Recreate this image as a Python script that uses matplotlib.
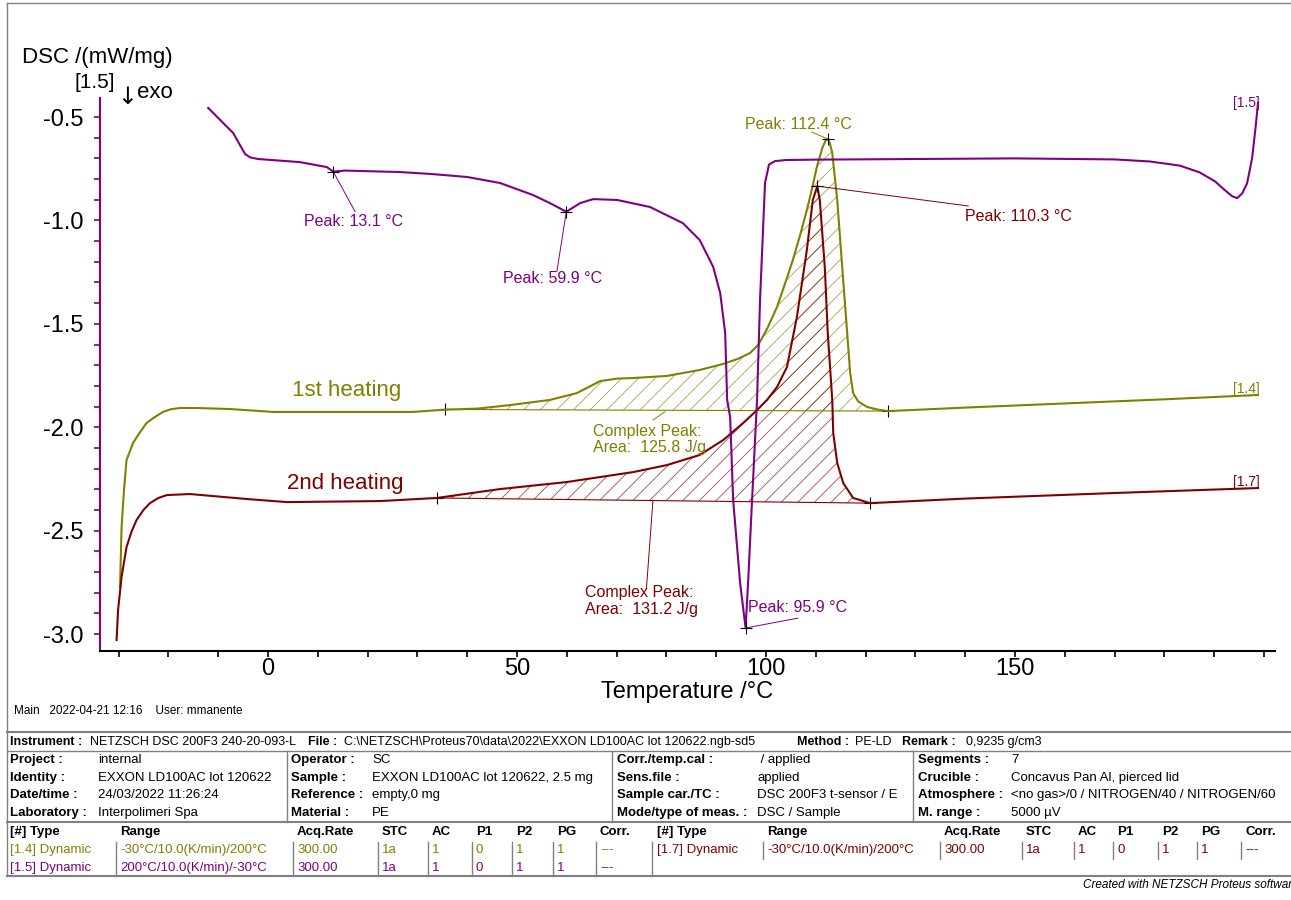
import matplotlib
matplotlib.use("Agg")
import matplotlib.pyplot as plt
from matplotlib.lines import Line2D

plt.rcParams['font.family'] = ['Liberation Sans', 'DejaVu Sans']
plt.rcParams['axes.unicode_minus'] = False
plt.rcParams['hatch.linewidth'] = 0.6

OLIVE = '#808000'
MAROON = '#800000'
PURPLE = '#800080'

# [1.4] first heating, -30 -> 200 °C
heat1_T = [-29.7, -29.4, -28.9, -28.4, -27.1, -26.0, -24.4, -23.0, -21.1, -19.5, -17.7, -14.3, -7.6,
           1.0, 12.4, 29.1, 35.5, 42.0, 48.6, 56.6, 62.0, 66.7, 70.0, 73.3, 80.1, 86.7, 91.4,
           94.5, 96.8, 98.5, 100.3, 102.2, 103.9, 105.4, 106.8, 108.2, 109.3, 110.2, 111.3,
           112.0, 112.4, 112.8, 113.3, 114.3, 115.3, 116.3, 116.9, 117.5, 118.5, 120.3, 122.5,
           124.5, 140.0, 160.0, 180.0, 198.8]
heat1_dsc = [-2.773, -2.483, -2.300, -2.159, -2.076, -2.035, -1.980, -1.955, -1.926, -1.913, -1.907,
             -1.907, -1.912, -1.926, -1.926, -1.926, -1.915, -1.910, -1.893, -1.868, -1.835, -1.777,
             -1.765, -1.762, -1.752, -1.723, -1.694, -1.668, -1.641, -1.600, -1.520, -1.419, -1.300,
             -1.191, -1.075, -0.950, -0.840, -0.742, -0.650, -0.612, -0.606, -0.625, -0.674, -0.901,
             -1.225, -1.545, -1.738, -1.835, -1.875, -1.902, -1.915, -1.922, -1.905, -1.885, -1.865,
             -1.844]

# [1.7] second heating, -30 -> 200 °C
heat2_T = [-30.4, -30.1, -29.4, -28.4, -27.4, -26.4, -25.0, -23.7, -22.0, -20.3, -15.7, -4.3, 3.8,
           22.5, 33.9, 46.6, 60.0, 73.3, 80.1, 86.7, 91.4, 95.4, 98.2, 100.2, 102.2, 104.2, 106.2,
           108.2, 109.4, 110.3, 110.8, 111.8, 112.4, 113.3, 113.5, 114.3, 115.5, 117.5, 120.9,
           140.0, 170.0, 198.8]
heat2_dsc = [-3.029, -2.884, -2.724, -2.579, -2.505, -2.449, -2.400, -2.367, -2.342, -2.328, -2.323,
             -2.347, -2.362, -2.357, -2.342, -2.299, -2.265, -2.217, -2.183, -2.134, -2.062, -1.980,
             -1.917, -1.868, -1.806, -1.709, -1.467, -1.143, -0.901, -0.834, -0.901, -1.225, -1.545,
             -1.868, -2.028, -2.173, -2.270, -2.342, -2.367, -2.345, -2.318, -2.294]

# [1.5] cooling, 200 -> -30 °C (kept in time order)
cool_T = [198.8, 198.3, 197.6, 196.6, 195.6, 194.6, 193.6, 192.2, 190.2, 187.1, 183.1, 177.1,
          170.0, 150.0, 130.0, 110.0, 104.0, 101.8, 100.6, 99.8, 98.8, 98.2, 97.2, 96.4, 95.9,
          94.8, 93.4, 92.8, 92.2, 91.8, 90.8, 89.4, 86.7, 83.3, 76.7, 70.1, 65.3, 62.7, 59.9,
          56.6, 53.2, 46.6, 40.0, 33.1, 26.5, 15.5, 13.1, 11.8, 6.4, -2.0, -3.6, -4.6, -7.0, -12.0]
cool_dsc = [-0.43, -0.55, -0.70, -0.82, -0.87, -0.892, -0.883, -0.855, -0.812, -0.768, -0.735, -0.715,
            -0.705, -0.700, -0.703, -0.706, -0.708, -0.713, -0.730, -0.819, -1.385, -1.868, -2.352,
            -2.753, -2.971, -2.753, -2.352, -1.951, -1.868, -1.544, -1.351, -1.225, -1.095, -1.013,
            -0.935, -0.901, -0.897, -0.916, -0.958, -0.916, -0.877, -0.819, -0.790, -0.776, -0.766,
            -0.759, -0.764, -0.742, -0.718, -0.703, -0.695, -0.679, -0.577, -0.456]

# integration limits (°C) and baseline values for the complex peaks
area1_T = [35.5, 124.5]
area1_base = [-1.914, -1.922]
area2_T = [33.9, 120.9]
area2_base = [-2.342, -2.367]

# evaluated peaks: (temperature, dsc)
peaks_cool = [(13.1, -0.764), (59.9, -0.958), (95.9, -2.971)]
peak_heat1 = (112.4, -0.606)
peak_heat2 = (110.3, -0.834)

W, H = 1291, 900
fig = plt.figure(figsize=(W / 100, H / 100), dpi=100)
ax = fig.add_axes([100 / W, 1 - 651 / H, 1175 / W, 553 / H])
ax.set_xlim(-33.73, 202.2)
ax.set_ylim(-3.082, -0.408)


def hatch_area(T, dsc, lim, base, color):
    pts_T = [t for t in T if lim[0] < t < lim[1]]
    pts_v = [v for t, v in zip(T, dsc) if lim[0] < t < lim[1]]
    poly_T = [lim[0]] + pts_T + [lim[1]]
    poly_v = [base[0]] + pts_v + [base[1]]
    ax.fill(poly_T, poly_v, facecolor='none', edgecolor=color, hatch='//', linewidth=0, alpha=0.7)
    ax.plot(lim, base, color=color, lw=0.8)
    ax.plot(lim, base, '+', color='black', ms=9, mew=0.8)


hatch_area(heat1_T, heat1_dsc, area1_T, area1_base, OLIVE)
hatch_area(heat2_T, heat2_dsc, area2_T, area2_base, MAROON)

ax.plot(heat1_T, heat1_dsc, color=OLIVE, lw=1.5)
ax.plot(heat2_T, heat2_dsc, color=MAROON, lw=1.5)
ax.plot(cool_T, cool_dsc, color=PURPLE, lw=1.5)

lab = dict(fontsize=11.5, va='center')


def peak_note(pk, txt_xy, lead_xy, text, color, ha='left'):
    ax.plot([pk[0], lead_xy[0]], [pk[1], lead_xy[1]], color=color, lw=0.7)
    ax.plot(pk[0], pk[1], '+', color='black', ms=9, mew=0.8)
    ax.text(txt_xy[0], txt_xy[1], text, color=color, ha=ha, **lab)


peak_note(peaks_cool[0], (7.2, -1.003), (17.5, -0.958), f"Peak: {peaks_cool[0][0]} °C", PURPLE)
peak_note(peaks_cool[1], (47.2, -1.283), (58.0, -1.248), f"Peak: {peaks_cool[1][0]} °C", PURPLE)
peak_note(peaks_cool[2], (96.4, -2.874), (106.4, -2.923), f"Peak: {peaks_cool[2][0]} °C", PURPLE)
peak_note(peak_heat1, (95.8, -0.534), (109.2, -0.573), f"Peak: {peak_heat1[0]} °C", OLIVE)
peak_note(peak_heat2, (140.0, -0.979), (140.6, -0.930), f"Peak: {peak_heat2[0]} °C", MAROON)

ax.plot([79.7, 77.3], [-1.925, -1.965], color=OLIVE, lw=0.7)
ax.text(65.3, -2.06, "Complex Peak:\nArea:  125.8 J/g", color=OLIVE, fontsize=11.5,
        va='center', ha='left', linespacing=1.1)
ax.plot([77.3, 76.0], [-2.352, -2.778], color=MAROON, lw=0.7)
ax.text(63.7, -2.84, "Complex Peak:\nArea:  131.2 J/g", color=MAROON, fontsize=11.5,
        va='center', ha='left', linespacing=1.1)

ax.text(4.8, -1.820, "1st heating", color=OLIVE, fontsize=16, va='center')
ax.text(3.8, -2.270, "2nd heating", color=MAROON, fontsize=16, va='center')

ax.text(199.2, -0.432, "[1.5]", color=PURPLE, fontsize=10, ha='right', va='center')
ax.text(199.2, -1.815, "[1.4]", color=OLIVE, fontsize=10, ha='right', va='center')
ax.text(199.2, -2.265, "[1.7]", color=MAROON, fontsize=10, ha='right', va='center')

# axes styling
for s in ('top', 'right'):
    ax.spines[s].set_visible(False)
ax.spines['left'].set_color(PURPLE)
ax.spines['left'].set_linewidth(1.5)
ax.spines['bottom'].set_linewidth(1.5)
ax.set_xticks([0, 50, 100, 150])
ax.set_xticks(range(-30, 201, 10), minor=True)
ax.set_yticks([-3.0, -2.5, -2.0, -1.5, -1.0, -0.5])
ax.set_yticklabels(['-3.0', '-2.5', '-2.0', '-1.5', '-1.0', '-0.5'])
ax.set_yticks([x / 10 for x in range(-30, -4)], minor=True)
ax.tick_params(axis='x', which='both', direction='out', length=4, width=1.2, labelsize=17, pad=1)
ax.tick_params(axis='y', which='both', direction='out', length=4, width=1.2, color=PURPLE,
               labelsize=17, pad=8)

# pixel-positioned figure text helpers
def ftext(x, y, s, **kw):
    kw.setdefault('va', 'center')
    fig.text(x / W, 1 - y / H, s, **kw)


def fline(xs, ys, **kw):
    kw.setdefault('color', '#808080')
    kw.setdefault('lw', 1.0)
    fig.add_artist(Line2D([x / W for x in xs], [1 - y / H for y in ys], transform=fig.transFigure, **kw))


ftext(22, 58, "DSC /(mW/mg)", fontsize=16)
ftext(75, 83, "[1.5]", fontsize=15)
ftext(117, 97, "\u2193", fontsize=17, family=['DejaVu Sans'])
ftext(137, 93, "exo", fontsize=16)
ftext(687, 692, "Temperature /°C", fontsize=17, ha='center')

# outer frame
fline([7, 7], [3, 876])
fline([7, W], [3, 3])

tfont = dict(fontsize=9.5)
bfont = dict(fontsize=9.5, fontweight='bold')
tfont_top = dict(fontsize=9)
bfont_top = dict(fontsize=9, fontweight='bold')

ftext(14, 711, "Main   2022-04-21 12:16    User: mmanente", fontsize=8.5)

# header block
fline([7, W], [732, 732], lw=1.5)
fline([7, W], [751, 751])
fline([7, W], [822, 822], lw=1.5)
fline([7, W], [876, 876], lw=1.5)
for x in (287, 612, 913):
    fline([x, x], [751, 822])

ftext(10, 742, "Instrument :", **bfont_top)
ftext(90, 742, "NETZSCH DSC 200F3 240-20-093-L", **tfont_top)
ftext(308, 742, "File :", **bfont_top)
ftext(344, 742, r"C:\NETZSCH\Proteus70\data\2022\EXXON LD100AC lot 120622.ngb-sd5", **tfont_top)
ftext(797, 742, "Method :", **bfont_top)
ftext(855, 742, "PE-LD", **tfont_top)
ftext(902, 742, "Remark :", **bfont_top)
ftext(966, 742, "0,9235 g/cm3", **tfont_top)

info_rows = [760, 778, 795, 813]
col1_labels = ["Project :", "Identity :", "Date/time :", "Laboratory :"]
col1_values = ["internal", "EXXON LD100AC lot 120622", "24/03/2022 11:26:24", "Interpolimeri Spa"]
col2_labels = ["Operator :", "Sample :", "Reference :", "Material :"]
col2_values = ["SC", "EXXON LD100AC lot 120622, 2.5 mg", "empty,0 mg", "PE"]
col3_labels = ["Corr./temp.cal :", "Sens.file :", "Sample car./TC :", "Mode/type of meas. :"]
col3_values = [" / applied", "applied", "DSC 200F3 t-sensor / E", "DSC / Sample"]
col4_labels = ["Segments :", "Crucible :", "Atmosphere :", "M. range :"]
col4_values = ["7", "Concavus Pan Al, pierced lid", "<no gas>/0 / NITROGEN/40 / NITROGEN/60", "5000 µV"]

for (lx, vx, labels, values) in [(10, 98, col1_labels, col1_values),
                                  (291, 372, col2_labels, col2_values),
                                  (617, 757, col3_labels, col3_values),
                                  (918, 1011, col4_labels, col4_values)]:
    for y, l, v in zip(info_rows, labels, values):
        ftext(lx, y, l, **bfont)
        ftext(vx, y, v, **tfont)

# measurement table
headers = ["[#] Type", "Range", "Acq.Rate", "STC", "AC", "P1", "P2", "PG", "Corr."]
left_cols = [10, 120, 297, 382, 432, 476, 516, 557, 600]
right_cols = [657, 767, 944, 1026, 1078, 1117, 1162, 1201, 1245]
for hx, h in zip(left_cols, headers):
    ftext(hx, 832, h, **bfont)
for hx, h in zip(right_cols, headers):
    ftext(hx, 832, h, **bfont)

seg_14 = ["[1.4] Dynamic", "-30°C/10.0(K/min)/200°C", "300.00", "1a", "1", "0", "1", "1", "---"]
seg_15 = ["[1.5] Dynamic", "200°C/10.0(K/min)/-30°C", "300.00", "1a", "1", "0", "1", "1", "---"]
seg_17 = ["[1.7] Dynamic", "-30°C/10.0(K/min)/200°C", "300.00", "1a", "1", "0", "1", "1", "---"]

for cx, s in zip(left_cols, seg_14):
    ftext(cx, 850, s, color=OLIVE, **tfont)
for cx, s in zip(left_cols, seg_15):
    ftext(cx, 868, s, color=PURPLE, **tfont)
for cx, s in zip(right_cols, seg_17):
    ftext(cx, 850, s, color=MAROON, **tfont)

for x in left_cols[1:]:
    fline([x - 4, x - 4], [842, 876])
fline([652, 652], [842, 876])
for x in right_cols[1:]:
    fline([x - 4, x - 4], [842, 859])

ftext(1083, 885, "Created with NETZSCH Proteus software", fontsize=8.5, style='italic')

fig.savefig("out.png", dpi=100)
